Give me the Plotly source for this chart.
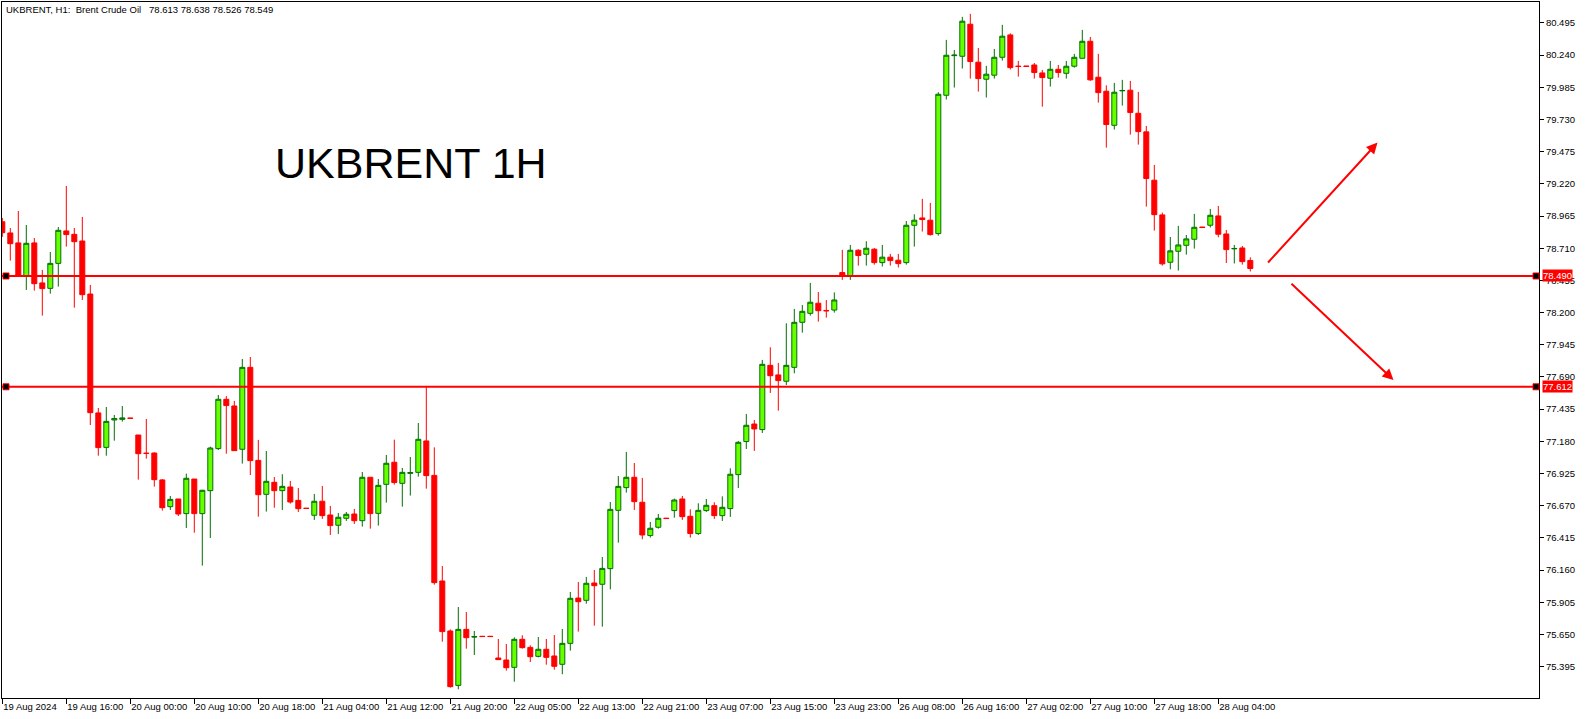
import plotly.graph_objects as go

# ---- data (H1 bars) ----
opens = [78.920, 78.831, 78.752, 78.490, 78.752, 78.435, 78.392, 78.590, 78.847, 78.820,
         78.767, 78.347, 77.405, 77.132, 77.349, 77.354, 77.364, 77.230, 77.086, 77.087,
         76.874, 76.662, 76.723, 76.607, 76.881, 76.607, 76.789, 77.122, 77.513, 77.460,
         77.117, 77.766, 77.029, 76.760, 76.855, 76.789, 76.818, 76.712, 76.650, 76.594,
         76.705, 76.596, 76.515, 76.570, 76.604, 76.551, 76.895, 76.609, 76.839, 77.014,
         76.847, 76.926, 76.934, 77.183, 76.910, 76.073, 75.677, 75.246, 75.690, 75.629,
         75.635, 75.635, 75.463, 75.447, 75.389, 75.611, 75.547, 75.476, 75.532, 75.479,
         75.413, 75.579, 75.938, 75.920, 76.057, 76.047, 76.171, 76.633, 76.813, 76.895,
         76.697, 76.433, 76.499, 76.571, 76.631, 76.723, 76.586, 76.449, 76.631, 76.670,
         76.591, 76.647, 76.916, 77.178, 77.317, 77.273, 77.782, 77.706, 77.656, 77.766,
         78.123, 78.194, 78.274, 78.217, 78.220, 78.517, 78.491, 78.694, 78.662, 78.702,
         78.596, 78.639, 78.615, 78.596, 78.892, 78.950, 78.932, 78.826, 79.922, 80.236,
         80.231, 80.485, 80.184, 80.049, 80.081, 80.223, 80.400, 80.153, 80.153, 80.162,
         80.099, 80.057, 80.128, 80.096, 80.152, 80.215, 80.350, 80.065, 79.954, 79.684,
         79.957, 79.962, 79.779, 79.632, 79.249, 78.974, 78.599, 78.686, 78.733, 78.781,
         78.878, 78.892, 78.966, 78.823, 78.705, 78.712, 78.613]
highs = [78.950, 78.870, 79.005, 78.894, 78.791, 78.538, 78.680, 78.878, 79.203, 78.870,
         78.958, 78.419, 77.444, 77.452, 77.389, 77.460, 77.364, 77.230, 77.357, 77.093,
         76.881, 76.747, 76.723, 76.924, 76.881, 76.795, 77.138, 77.547, 77.539, 77.500,
         77.832, 77.848, 77.191, 77.103, 76.897, 76.919, 76.866, 76.810, 76.650, 76.763,
         76.826, 76.668, 76.612, 76.620, 76.644, 76.937, 76.895, 76.882, 77.072, 77.193,
         76.969, 77.056, 77.325, 77.613, 77.132, 76.192, 75.690, 75.867, 75.827, 75.677,
         75.635, 75.635, 75.614, 75.574, 75.627, 75.643, 75.563, 75.629, 75.614, 75.645,
         75.693, 75.986, 76.065, 76.105, 76.160, 76.263, 76.699, 76.905, 77.096, 77.008,
         76.890, 76.541, 76.604, 76.571, 76.726, 76.747, 76.641, 76.689, 76.723, 76.697,
         76.744, 76.966, 77.183, 77.397, 77.349, 77.825, 77.925, 77.801, 78.115, 78.229,
         78.260, 78.435, 78.363, 78.300, 78.360, 78.697, 78.736, 78.702, 78.765, 78.712,
         78.736, 78.665, 78.665, 78.926, 78.979, 79.101, 79.069, 79.946, 80.361, 80.281,
         80.543, 80.567, 80.297, 80.155, 80.289, 80.480, 80.413, 80.194, 80.153, 80.178,
         80.123, 80.194, 80.162, 80.194, 80.250, 80.440, 80.384, 80.250, 80.001, 80.020,
         80.044, 80.036, 79.949, 79.679, 79.370, 78.992, 78.799, 78.887, 78.815, 78.982,
         78.878, 79.021, 79.045, 78.855, 78.736, 78.728, 78.638]
lows = [78.800, 78.612, 78.490, 78.379, 78.374, 78.176, 78.350, 78.406, 78.723, 78.239,
        78.300, 77.309, 77.066, 77.066, 77.185, 77.336, 77.362, 76.876, 77.043, 76.821,
        76.631, 76.636, 76.588, 76.493, 76.456, 76.195, 76.414, 77.111, 77.082, 77.106,
        77.003, 76.913, 76.583, 76.623, 76.654, 76.636, 76.686, 76.620, 76.648, 76.557,
        76.565, 76.438, 76.446, 76.549, 76.525, 76.504, 76.488, 76.512, 76.694, 76.837,
        76.662, 76.750, 76.900, 76.805, 76.044, 75.592, 75.228, 75.215, 75.537, 75.487,
        75.633, 75.633, 75.450, 75.363, 75.275, 75.537, 75.431, 75.468, 75.410, 75.370,
        75.334, 75.521, 75.672, 75.893, 75.719, 75.711, 76.007, 76.377, 76.773, 76.636,
        76.404, 76.417, 76.488, 76.568, 76.575, 76.557, 76.417, 76.438, 76.620, 76.565,
        76.549, 76.581, 76.810, 77.119, 77.104, 77.246, 77.563, 77.423, 77.626, 77.719,
        78.041, 78.176, 78.128, 78.160, 78.200, 78.459, 78.459, 78.572, 78.572, 78.580,
        78.565, 78.572, 78.557, 78.580, 78.723, 78.842, 78.810, 78.810, 79.888, 79.983,
        80.134, 80.054, 79.951, 79.904, 80.054, 80.197, 80.126, 80.070, 80.151, 80.054,
        79.832, 79.991, 80.062, 80.054, 80.141, 80.215, 80.036, 79.864, 79.507, 79.650,
        79.840, 79.610, 79.531, 79.040, 78.850, 78.572, 78.543, 78.533, 78.659, 78.707,
        78.874, 78.874, 78.797, 78.593, 78.589, 78.580, 78.526]
closes = [78.833, 78.746, 78.490, 78.749, 78.429, 78.390, 78.590, 78.852, 78.818, 78.762,
          78.342, 77.407, 77.130, 77.338, 77.360, 77.365, 77.362, 77.082, 77.084, 76.876,
          76.654, 76.720, 76.604, 76.887, 76.607, 76.792, 77.127, 77.513, 77.463, 77.106,
          77.766, 77.027, 76.757, 76.863, 76.789, 76.823, 76.699, 76.646, 76.648, 76.705,
          76.591, 76.512, 76.578, 76.602, 76.551, 76.895, 76.607, 76.831, 77.006, 76.853,
          76.934, 76.932, 77.196, 76.908, 76.060, 75.672, 75.236, 75.690, 75.624, 75.632,
          75.633, 75.633, 75.450, 75.386, 75.611, 75.545, 75.473, 75.532, 75.468, 75.397,
          75.579, 75.936, 75.909, 76.055, 76.036, 76.173, 76.641, 76.823, 76.895, 76.702,
          76.438, 76.491, 76.570, 76.568, 76.715, 76.583, 76.449, 76.633, 76.673, 76.591,
          76.657, 76.919, 77.172, 77.307, 77.278, 77.790, 77.700, 77.661, 77.782, 78.123,
          78.210, 78.282, 78.215, 78.214, 78.300, 78.493, 78.694, 78.652, 78.710, 78.596,
          78.639, 78.612, 78.588, 78.892, 78.932, 78.937, 78.818, 79.930, 80.239, 80.240,
          80.509, 80.189, 80.054, 80.089, 80.223, 80.390, 80.141, 80.150, 80.151, 80.102,
          80.062, 80.128, 80.102, 80.152, 80.223, 80.350, 80.044, 79.943, 79.690, 79.946,
          79.960, 79.785, 79.634, 79.262, 78.976, 78.586, 78.689, 78.736, 78.784, 78.876,
          78.874, 78.971, 78.821, 78.699, 78.708, 78.604, 78.549]

bar_index = list(range(len(opens)))

time_tick_bars = [0, 8, 16, 24, 32, 40, 48, 56, 64, 72, 80, 88, 96, 104, 112, 120, 128, 136, 144, 152]
time_tick_labels = ["19 Aug 2024", "19 Aug 16:00", "20 Aug 00:00", "20 Aug 10:00", "20 Aug 18:00",
                    "21 Aug 04:00", "21 Aug 12:00", "21 Aug 20:00", "22 Aug 05:00", "22 Aug 13:00",
                    "22 Aug 21:00", "23 Aug 07:00", "23 Aug 15:00", "23 Aug 23:00", "26 Aug 08:00",
                    "26 Aug 16:00", "27 Aug 02:00", "27 Aug 10:00", "27 Aug 18:00", "28 Aug 04:00"]

price_ticks = [75.395, 75.650, 75.905, 76.160, 76.415, 76.670, 76.925, 77.180, 77.435, 77.690,
               77.945, 78.200, 78.455, 78.710, 78.965, 79.220, 79.475, 79.730, 79.985, 80.240, 80.495]

levels = [78.490, 77.612]
header = "UKBRENT, H1:\u00a0 Brent Crude Oil \u00a0 78.613 78.638 78.526 78.549"
big_title = "UKBRENT 1H"

# scenario arrows: (tail bar, tail price, head bar, head price)
arrows = [(158.05, 78.585, 171.9, 79.547), (160.96, 78.44, 173.9, 77.666)]

FONT = "Liberation Sans"
UP_FILL, UP_LINE = "#66FF00", "#007000"
DN_FILL, DN_LINE = "#FF0000", "#FF0000"

fig = go.Figure()
fig.add_trace(go.Candlestick(
    x=bar_index, open=opens, high=highs, low=lows, close=closes,
    increasing=dict(fillcolor=UP_FILL, line=dict(color=UP_LINE, width=1)),
    decreasing=dict(fillcolor=DN_FILL, line=dict(color=DN_LINE, width=1)),
    whiskerwidth=0, showlegend=False, hoverinfo="skip",
))

shapes = []
annotations = []
for lv in levels:
    shapes.append(dict(type="line", xref="paper", x0=0, x1=1, yref="y", y0=lv, y1=lv,
                       line=dict(color="#FF0000", width=2), layer="above"))
    for anchor, (p0, p1) in [(0, (1, 7)), (1, (-6, 0))]:
        shapes.append(dict(type="rect", xref="paper", xsizemode="pixel", xanchor=anchor,
                           x0=p0, x1=p1, yref="y", ysizemode="pixel", yanchor=lv, y0=-3, y1=3,
                           fillcolor="black", line=dict(color="#FF0000", width=1), layer="above"))
    annotations.append(dict(xref="paper", x=1, xanchor="left", xshift=3, yref="y", y=lv,
                            yanchor="middle", text=f"{lv:.3f}", showarrow=False,
                            bgcolor="#FF0000", borderpad=0,
                            font=dict(family=FONT, size=9.5, color="white")))

for tx, ty, hx, hy in arrows:
    annotations.append(dict(x=hx, y=hy, ax=tx, ay=ty, xref="x", yref="y", axref="x", ayref="y",
                            text="", showarrow=True, arrowhead=2, arrowsize=1.1, arrowwidth=2,
                            arrowcolor="#FF0000"))

annotations.append(dict(xref="paper", x=0, xanchor="left", xshift=2, yref="paper", y=1,
                        yanchor="top", yshift=0, text=header, showarrow=False,
                        font=dict(family=FONT, size=9.5, color="black")))
annotations.append(dict(xref="paper", x=0.2659, xanchor="center", yref="paper", y=0.7685,
                        yanchor="middle", text=big_title, showarrow=False,
                        font=dict(family=FONT, size=43, color="black")))

fig.update_layout(
    width=1587, height=719,
    margin=dict(l=2, r=48, t=2, b=21, pad=0, autoexpand=False),
    paper_bgcolor="white", plot_bgcolor="white",
    boxgap=0.375, boxgroupgap=0,
    shapes=shapes, annotations=annotations,
    xaxis=dict(range=[-0.0375, 192.0875], rangeslider=dict(visible=False),
               tickvals=time_tick_bars, ticktext=time_tick_labels, tickangle=0,
               ticks="outside", ticklen=5, tickcolor="black", tickwidth=1,
               ticklabelposition="outside right", automargin=False,
               tickfont=dict(family=FONT, size=9.5, color="black"),
               showgrid=False, zeroline=False,
               showline=True, linecolor="black", linewidth=1, mirror=True),
    yaxis=dict(range=[75.146, 80.661], side="right", automargin=False,
               tickvals=price_ticks, ticktext=[f"{v:.3f}" for v in price_ticks],
               ticks="outside", ticklen=4, tickcolor="black", tickwidth=1,
               tickfont=dict(family=FONT, size=9.5, color="black"),
               showgrid=False, zeroline=False,
               showline=True, linecolor="black", linewidth=1, mirror=True),
)

fig.write_html("out.html", config={"displayModeBar": False},
               post_script="document.body.style.margin='0px';document.body.style.overflow='hidden';")
